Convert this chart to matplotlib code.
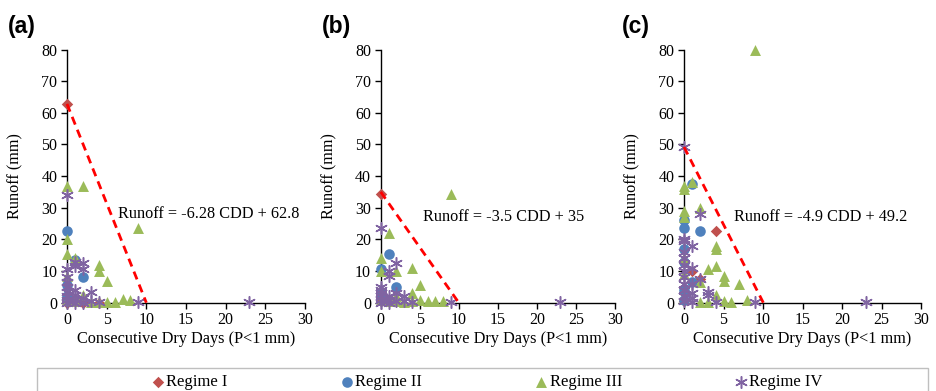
# ================================== Imports =========================
import matplotlib
matplotlib.use("Agg")
import matplotlib.pyplot as plt
from matplotlib.patches import Rectangle

# ================================== Data =========================
panel_labels = ["(a)", "(b)", "(c)"]
regime_names = ["Regime I", "Regime II", "Regime III", "Regime IV"]

slopes = [-6.28, -3.5, -4.9]
intercepts = [62.8, 35, 49.2]
equations = ["Runoff = -6.28 CDD + 62.8", "Runoff = -3.5 CDD + 35", "Runoff = -4.9 CDD + 49.2"]

x_ticks = [0, 5, 10, 15, 20, 25, 30]
y_ticks = [0, 10, 20, 30, 40, 50, 60, 70, 80]

# panel (a)
r1_a_x = [0, 2, 0, 4]
r1_a_y = [62.8, 0, 0, 0]
r2_a_x = [0, 1, 2, 0, 0, 0, 1]
r2_a_y = [22.5, 13.5, 8, 5.5, 2, 0.5, 1]
r3_a_x = [0, 2, 9, 0, 0, 1, 0, 4, 4, 5, 2, 0, 3, 4, 5, 6, 7, 8, 1]
r3_a_y = [37, 37, 23.5, 20, 15.5, 14, 8.5, 12, 10, 7, 2.5, 1, 0.3, 0.3, 0.3, 0.3, 1.2, 0.7, 0.5]
r4_a_x = [0, 0, 1, 1, 2, 2, 3, 0, 0, 0, 0, 0, 0, 0, 1, 1, 1, 1, 2, 2, 3, 4, 9, 23]
r4_a_y = [34, 10.5, 13, 11.5, 12.5, 10.5, 3.5, 8, 6.5, 5, 3.5, 2, 1, 0, 4, 2.5, 1, 0, 1.5, 0, 0.5, 0.3, 0.3, 0.3]

# panel (b)
r1_b_x = [0, 0]
r1_b_y = [34.5, 0.5]
r2_b_x = [1, 0, 2, 0, 1]
r2_b_y = [15.5, 10.5, 5, 3, 1]
r3_b_x = [9, 1, 0, 0, 2, 4, 5, 4, 0, 1, 2, 3, 5, 6, 7, 8, 4, 2]
r3_b_y = [34.5, 22, 14, 10, 10, 11, 5.5, 3, 1, 0.5, 0.5, 0.3, 0.8, 0.5, 0.5, 0.5, 0.5, 2]
r4_b_x = [0, 2, 1, 1, 0, 0, 0, 0, 0, 0, 1, 1, 1, 2, 2, 3, 3, 4, 9, 23]
r4_b_y = [23.5, 12.5, 10, 8.5, 5, 4, 3, 2, 1, 0, 2, 1, 0, 3, 0.5, 2, 0.5, 0.3, 0.3, 0.3]

# panel (c)
r1_c_x = [4, 1, 2, 0, 0]
r1_c_y = [22.5, 10, 7.5, 3, 0.5]
r2_c_x = [1, 0, 0, 2, 0, 0, 1, 0, 0]
r2_c_y = [37.5, 26, 23.5, 22.5, 17, 13, 6.5, 4, 1]
r3_c_x = [9, 0, 1, 0, 2, 0, 4, 4, 3, 4, 5, 5, 7, 2, 0, 4, 2, 3, 5, 6, 8, 0, 0]
r3_c_y = [80, 37, 38, 29, 30, 27, 18, 17, 10.5, 11.5, 8.5, 7, 6, 6.5, 14, 2.5, 0.3, 0.3, 0.5, 0.3, 0.8, 9, 36]
r4_c_x = [0, 2, 0, 1, 0, 0, 0, 1, 1, 2, 3, 3, 0, 0, 0, 0, 0, 0, 1, 1, 1, 4, 9, 23, 0]
r4_c_y = [49.2, 28, 19.5, 18, 16, 14, 12, 11, 3, 7.5, 3.5, 2.5, 10, 8, 6, 4, 2, 0.5, 6, 1.5, 0.3, 0.3, 0.3, 0.3, 20]

panels = [
    [(r1_a_x, r1_a_y), (r2_a_x, r2_a_y), (r3_a_x, r3_a_y), (r4_a_x, r4_a_y)],
    [(r1_b_x, r1_b_y), (r2_b_x, r2_b_y), (r3_b_x, r3_b_y), (r4_b_x, r4_b_y)],
    [(r1_c_x, r1_c_y), (r2_c_x, r2_c_y), (r3_c_x, r3_c_y), (r4_c_x, r4_c_y)],
]

# ================================== Styles =========================
colors = ["#C0504D", "#4F81BD", "#9BBB59", "#8064A2"]
markers = ["D", "o", "^", (6, 2, 0)]
sizes = [34, 58, 62, 70]
serif = "Liberation Serif"

# axes boxes in figure pixels: left, right
ax_lr = [(67, 305), (380.7, 615), (684, 921)]
ax_bottom = 1 - 302.7 / 391
ax_top = 1 - 49.5 / 391
label_x = [8, 322, 622]
eq_pos = [(6.4, 28), (5.4, 27), (6.3, 27)]

# ================================== Plot =========================
fig = plt.figure(figsize=(9.36, 3.91), dpi=100)
handles = []
for i in range(3):
    l, r = ax_lr[i]
    ax = fig.add_axes([l / 936, ax_bottom, (r - l) / 936, ax_top - ax_bottom])
    for k in range(4):
        xs, ys = panels[i][k]
        if k == 3:
            # asterisk is a line marker, colour goes through color=
            h = ax.scatter(xs, ys, marker=markers[k], s=sizes[k], color=colors[k],
                           linewidths=1.1, clip_on=False, zorder=3 + k)
        else:
            h = ax.scatter(xs, ys, marker=markers[k], s=sizes[k], color=colors[k],
                           linewidths=0, clip_on=False, zorder=3 + k)
        if i == 0:
            handles.append(h)
    # trend line
    x_end = -intercepts[i] / slopes[i]
    ax.plot([0, x_end], [intercepts[i], 0], color="red", linestyle=(0, (3, 2)),
            linewidth=2, zorder=8, clip_on=False)
    ax.text(eq_pos[i][0], eq_pos[i][1], equations[i], fontsize=11.7, family=serif,
            ha="left", va="center", zorder=9)

    ax.set_xlim(0, 30)
    ax.set_ylim(0, 80)
    ax.set_xticks(x_ticks)
    ax.set_yticks(y_ticks)
    ax.spines["top"].set_visible(False)
    ax.spines["right"].set_visible(False)
    for s in ["left", "bottom"]:
        ax.spines[s].set_color("black")
        ax.spines[s].set_linewidth(1)
    ax.tick_params(direction="out", length=4, width=1, labelsize=11.5, pad=3)
    for lab in ax.get_xticklabels() + ax.get_yticklabels():
        lab.set_family(serif)
    ax.set_xlabel("Consecutive Dry Days (P<1 mm)", fontsize=11.7, family=serif, labelpad=2)
    ax.set_ylabel("Runoff (mm)", fontsize=11.7, family=serif)
    ax.yaxis.set_label_coords(-0.185, 0.5)

    fig.text(label_x[i] / 936, 1 - 27 / 391, panel_labels[i], fontsize=16.5,
             fontweight="bold", family="Liberation Sans", ha="left", va="center")

# ================================== Legend =========================
box = Rectangle((37 / 936, -0.05), (928 - 37) / 936, 0.05 + 1 - 368 / 391,
                transform=fig.transFigure, facecolor="white", edgecolor="#BFBFBF",
                linewidth=1, clip_on=False)
fig.patches.append(box)
fig.legend(handles, regime_names, loc="center", bbox_to_anchor=(487.5 / 936, 1 - 382 / 391),
           ncol=4, frameon=False, prop={"family": serif, "size": 12},
           handlelength=0.7, handletextpad=0.15, columnspacing=6.8, borderpad=0)

fig.savefig("out.png", dpi=100)
